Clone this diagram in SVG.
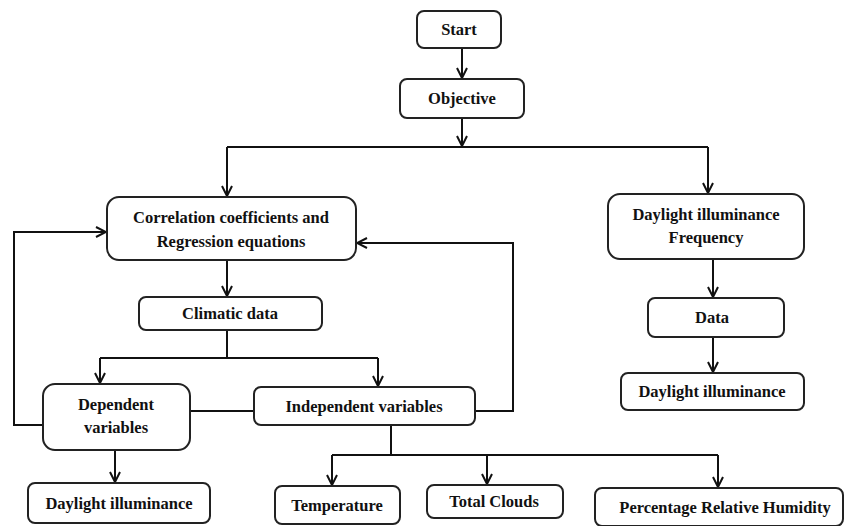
<svg xmlns="http://www.w3.org/2000/svg" width="845" height="526" viewBox="0 0 845 526">
<style>
.box{fill:#fff;stroke:#222;stroke-width:2}
.t{font-family:"Liberation Serif","Times New Roman",serif;font-size:16.5px;font-weight:bold;fill:#111;text-anchor:middle}
.c{fill:none;stroke:#111;stroke-width:2}
</style>
<defs>
<marker id="a" viewBox="0 0 12 12" refX="11" refY="6" markerWidth="12" markerHeight="12" markerUnits="userSpaceOnUse" orient="auto">
<path d="M1,1 L11,6 L1,11" fill="none" stroke="#111" stroke-width="2"/>
</marker>
</defs>
<rect width="845" height="526" fill="#fff"/>
<g id="connectors">
<path class="c" d="M462,48 V78" marker-end="url(#a)"/>
<path class="c" d="M462,118 V146" marker-end="url(#a)"/>
<path class="c" d="M227,147 H708"/>
<path class="c" d="M227,147 V196" marker-end="url(#a)"/>
<path class="c" d="M708,147 V193" marker-end="url(#a)"/>
<path class="c" d="M227,260 V296" marker-end="url(#a)"/>
<path class="c" d="M227,330 V358"/>
<path class="c" d="M100,358 H378"/>
<path class="c" d="M100,358 V383" marker-end="url(#a)"/>
<path class="c" d="M378,358 V386" marker-end="url(#a)"/>
<path class="c" d="M190,411 H254"/>
<path class="c" d="M43,425 H14 V232 H106" marker-end="url(#a)"/>
<path class="c" d="M475,411 H513 V243 H357" marker-end="url(#a)"/>
<path class="c" d="M115,450 V482" marker-end="url(#a)"/>
<path class="c" d="M391,425 V455"/>
<path class="c" d="M332,455 H718"/>
<path class="c" d="M332,455 V485" marker-end="url(#a)"/>
<path class="c" d="M487,455 V484" marker-end="url(#a)"/>
<path class="c" d="M718,455 V487" marker-end="url(#a)"/>
<path class="c" d="M713,259 V297" marker-end="url(#a)"/>
<path class="c" d="M713,337 V372" marker-end="url(#a)"/>
</g>
<g id="start"><rect class="box" x="417" y="11" width="84" height="37" rx="7"/><text class="t" x="459" y="35">Start</text></g>
<g id="objective"><rect class="box" x="400" y="79" width="124" height="39" rx="7"/><text class="t" x="462" y="104">Objective</text></g>
<g id="correlation"><rect class="box" x="107" y="197" width="249" height="63" rx="12"/><text class="t" x="231" y="223">Correlation coefficients and</text><text class="t" x="231" y="247">Regression equations</text></g>
<g id="climatic"><rect class="box" x="139" y="297" width="183" height="33" rx="7"/><text class="t" x="230" y="319">Climatic data</text></g>
<g id="dependent"><rect class="box" x="43" y="384" width="147" height="66" rx="12"/><text class="t" x="116" y="410">Dependent</text><text class="t" x="116" y="433">variables</text></g>
<g id="independent"><rect class="box" x="254" y="387" width="221" height="38" rx="7"/><text class="t" x="364" y="412">Independent variables</text></g>
<g id="daylight-left"><rect class="box" x="28" y="483" width="182" height="40" rx="7"/><text class="t" x="119" y="509">Daylight illuminance</text></g>
<g id="temperature"><rect class="box" x="275" y="486" width="125" height="38" rx="7"/><text class="t" x="337" y="511">Temperature</text></g>
<g id="clouds"><rect class="box" x="427" y="485" width="136" height="33" rx="7"/><text class="t" x="494" y="507">Total Clouds</text></g>
<g id="humidity"><rect class="box" x="595" y="488" width="248" height="38" rx="7"/><text class="t" x="725" y="513">Percentage Relative Humidity</text></g>
<g id="frequency"><rect class="box" x="608" y="194" width="196" height="65" rx="12"/><text class="t" x="706" y="220">Daylight illuminance</text><text class="t" x="706" y="243">Frequency</text></g>
<g id="data"><rect class="box" x="648" y="298" width="136" height="39" rx="7"/><text class="t" x="712" y="323">Data</text></g>
<g id="daylight-right"><rect class="box" x="621" y="373" width="183" height="37" rx="7"/><text class="t" x="712" y="397">Daylight illuminance</text></g>
</svg>
